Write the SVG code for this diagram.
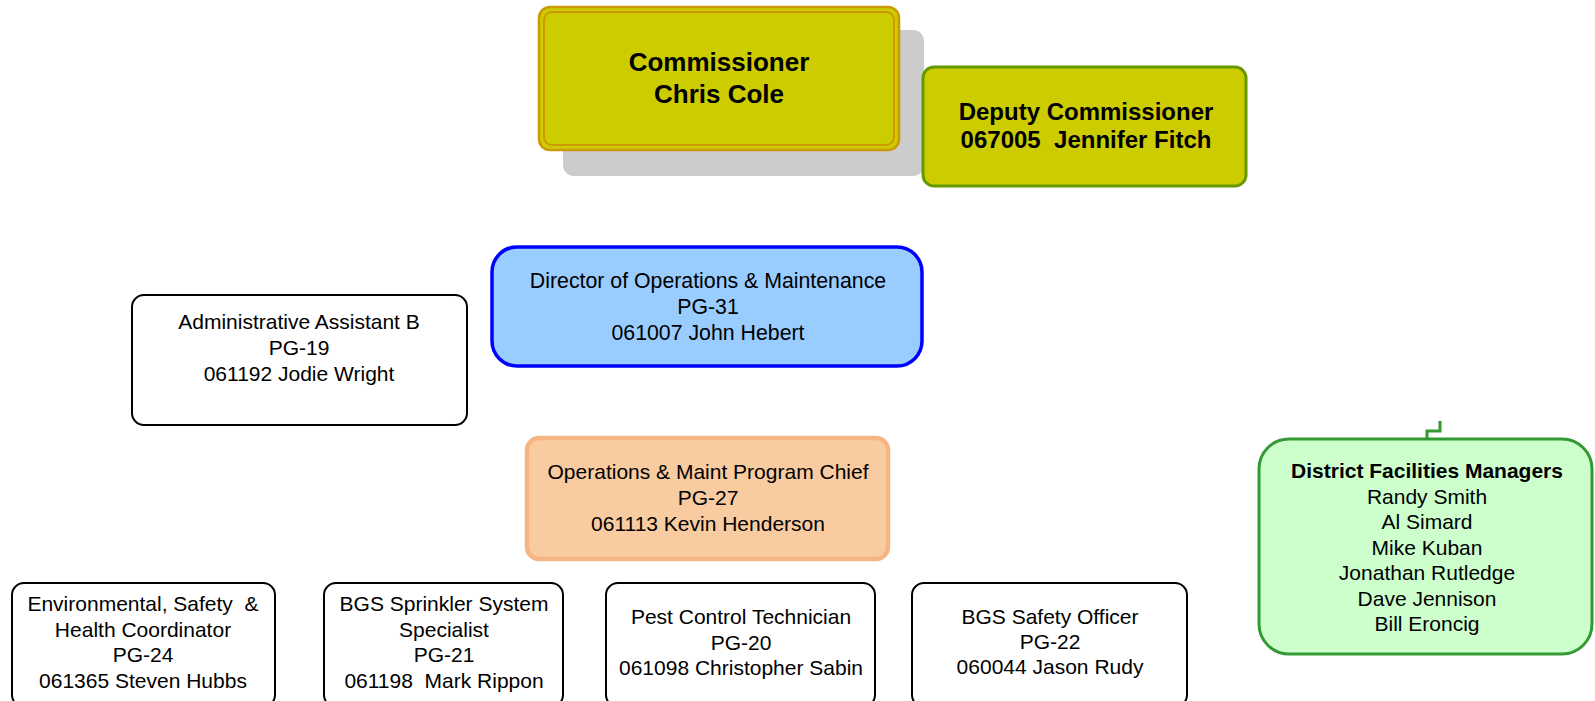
<svg xmlns="http://www.w3.org/2000/svg" width="1595" height="701" viewBox="0 0 1595 701">
<style>
text{font-family:"Liberation Sans",Arial,sans-serif;font-size:21px;fill:#000;text-anchor:middle}
.b{font-weight:bold}
.plain{fill:#fff;stroke:#000;stroke-width:2}
</style>
<rect width="1595" height="701" fill="#fff"/>
<g id="connectors">
<path d="M1440,421 V431 H1427 V438" fill="none" stroke="#339933" stroke-width="3"/>
</g>
<g id="shadow">
<rect x="563" y="30" width="361" height="146" rx="11" fill="#CCCCCC"/>
</g>
<g id="commissioner">
<rect x="539" y="7" width="360" height="143" rx="11" fill="#CCCC00" stroke="#CC9900" stroke-width="2.5"/>
<rect x="544" y="12" width="350" height="133" rx="8" fill="none" stroke="#CC9900" stroke-width="2"/>
<text class="b" x="719" y="71" style="font-size:26px">Commissioner</text>
<text class="b" x="719" y="103" style="font-size:26px">Chris Cole</text>
</g>
<g id="deputy">
<rect x="923" y="67" width="323" height="119" rx="11" fill="#CCCC00" stroke="#669900" stroke-width="3"/>
<text class="b" x="1086" y="120" style="font-size:24px">Deputy Commissioner</text>
<text class="b" x="1086" y="148" style="font-size:24px" xml:space="preserve">067005  Jennifer Fitch</text>
</g>
<g id="director">
<rect x="492" y="247" width="430" height="119" rx="25" fill="#99CCFF" stroke="#0000FF" stroke-width="3.5"/>
<text x="708" y="288" style="font-size:21.3px">Director of Operations &amp; Maintenance</text>
<text x="708" y="314" style="font-size:21.3px">PG-31</text>
<text x="708" y="340" style="font-size:21.3px">061007 John Hebert</text>
</g>
<g id="admin">
<rect class="plain" x="132" y="295" width="335" height="130" rx="12"/>
<text x="299" y="329">Administrative Assistant B</text>
<text x="299" y="355">PG-19</text>
<text x="299" y="381">061192 Jodie Wright</text>
</g>
<g id="opschief">
<rect x="527" y="438" width="361" height="121" rx="12" fill="#F9CBA0" stroke="#F6B683" stroke-width="4.5"/>
<text x="708" y="479">Operations &amp; Maint Program Chief</text>
<text x="708" y="505">PG-27</text>
<text x="708" y="531">061113 Kevin Henderson</text>
</g>
<g id="district">
<rect x="1259" y="439" width="333" height="215" rx="30" fill="#CCFFCC" stroke="#339933" stroke-width="3"/>
<text class="b" x="1427" y="478">District Facilities Managers</text>
<text x="1427" y="503.5">Randy Smith</text>
<text x="1427" y="529">Al Simard</text>
<text x="1427" y="554.5">Mike Kuban</text>
<text x="1427" y="580">Jonathan Rutledge</text>
<text x="1427" y="605.5">Dave Jennison</text>
<text x="1427" y="631">Bill Eroncig</text>
</g>
<g id="envsafety">
<rect class="plain" x="12" y="583" width="263" height="124" rx="12"/>
<text x="143" y="611" xml:space="preserve">Environmental, Safety  &amp;</text>
<text x="143" y="637">Health Coordinator</text>
<text x="143" y="662">PG-24</text>
<text x="143" y="688">061365 Steven Hubbs</text>
</g>
<g id="sprinkler">
<rect class="plain" x="324" y="583" width="239" height="124" rx="12"/>
<text x="444" y="611">BGS Sprinkler System</text>
<text x="444" y="637">Specialist</text>
<text x="444" y="662">PG-21</text>
<text x="444" y="688" xml:space="preserve">061198  Mark Rippon</text>
</g>
<g id="pest">
<rect class="plain" x="606" y="583" width="269" height="124" rx="12"/>
<text x="741" y="624">Pest Control Technician</text>
<text x="741" y="650">PG-20</text>
<text x="741" y="675">061098 Christopher Sabin</text>
</g>
<g id="safetyofficer">
<rect class="plain" x="912" y="583" width="275" height="124" rx="12" stroke-width="1.5"/>
<text x="1050" y="624">BGS Safety Officer</text>
<text x="1050" y="649">PG-22</text>
<text x="1050" y="674">060044 Jason Rudy</text>
</g>
</svg>
